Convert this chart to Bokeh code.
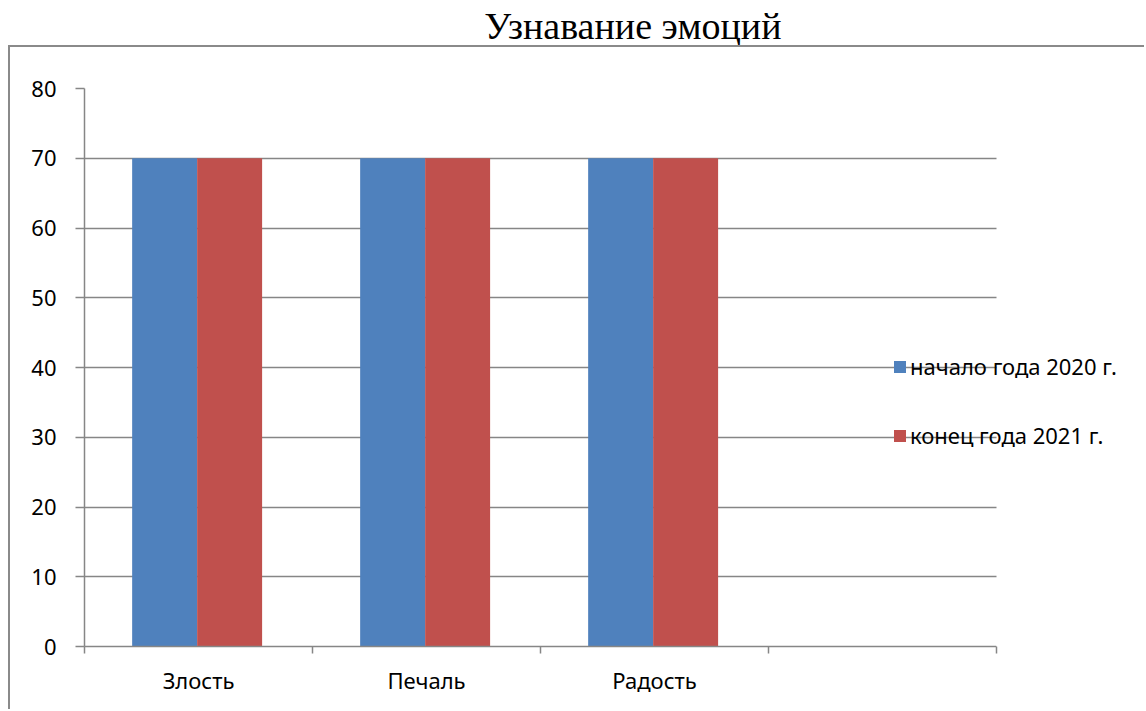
from bokeh.plotting import figure
from bokeh.models import (ColumnDataSource, FixedTicker, Legend, LegendItem,
                          BoxAnnotation, Range1d, Label)
from bokeh.layouts import column
from bokeh.embed import file_html
from bokeh.resources import INLINE
import numpy as np

# ---- data ----
categories = ["Злость", "Печаль", "Радость", ""]
series_names = ["начало года 2020 г.", "конец года 2021 г."]
start_2020 = [70, 70, 70]
end_2021 = [70, 70, 70]
y_ticks = [0, 10, 20, 30, 40, 50, 60, 70, 80]
title_text = "Узнавание эмоций"

BLUE = "#4F81BD"
RED = "#C0504D"
GRAY = "#868686"
FONT = "Noto Sans"
FS = "22px"

# ---- layout constants (pixels) ----
W, H = 1146, 711
TITLE_H = 45
MAIN_W, MAIN_H = 1136, 664        # inside the CSS border of the chart frame
LEFT, TOP, BOTTOM = 74, 41, 65    # plot area borders inside the main canvas
CAT_PX = 228                      # pixel width of one category slot

n_cat = len(categories)
frame_w = MAIN_W - LEFT
x_end = frame_w / CAT_PX          # keeps 228 px per category, frame runs to the right edge

idx = np.arange(len(start_2020)) + 0.5
bar_w = 0.285

src1 = ColumnDataSource(dict(x=idx - bar_w / 2 - 0.006, top=start_2020))
src2 = ColumnDataSource(dict(x=idx + bar_w / 2 - 0.006, top=end_2021))

# ---- title strip ----
t = figure(width=W, height=TITLE_H, output_backend="svg", toolbar_location=None,
           x_range=Range1d(0, W), y_range=Range1d(0, TITLE_H),
           x_axis_location=None, y_axis_location=None,
           min_border=0, min_border_left=0, min_border_right=0,
           min_border_top=0, min_border_bottom=0)
t.outline_line_color = None
t.grid.visible = False
t.add_layout(Label(x=597, y=TITLE_H, y_offset=-4, text=title_text,
                   text_align="center", text_baseline="top",
                   text_font="Liberation Serif",
                   text_font_size="38px", text_color="black"))

# ---- main chart ----
p = figure(width=MAIN_W, height=MAIN_H, output_backend="svg", toolbar_location=None,
           x_range=Range1d(0, x_end), y_range=Range1d(0, 80),
           min_border_left=LEFT, min_border_right=0, min_border_top=TOP,
           min_border_bottom=BOTTOM,
           styles={"margin-left": "8px",
                   "border-left": "2px solid #8a8a8a",
                   "border-top": "2px solid #8a8a8a"})
p.outline_line_color = None

r1 = p.vbar(x="x", top="top", bottom=0, width=bar_w, source=src1,
            fill_color=BLUE, line_color=None)
r2 = p.vbar(x="x", top="top", bottom=0, width=bar_w, source=src2,
            fill_color=RED, line_color=None)

# y axis
p.yaxis.ticker = FixedTicker(ticks=y_ticks)
p.yaxis.axis_line_color = GRAY
p.yaxis.axis_line_width = 1.5
p.yaxis.major_tick_line_color = GRAY
p.yaxis.major_tick_line_width = 1.5
p.yaxis.major_tick_out = 9
p.yaxis.major_tick_in = 0
p.yaxis.minor_tick_line_color = None
p.yaxis.major_label_text_font = FONT
p.yaxis.major_label_text_font_size = FS
p.yaxis.major_label_text_color = "black"
p.yaxis.major_label_standoff = 19

# x axis: labels at category centres, ticks at category boundaries
centers = [i + 0.5 for i in range(n_cat)]
bounds = [float(i) for i in range(n_cat + 1)]
p.xaxis.ticker = FixedTicker(ticks=centers, minor_ticks=bounds)
p.xaxis.major_label_overrides = {c: lab for c, lab in zip(centers, categories)}
p.xaxis.bounds = (0, n_cat)
p.xaxis.axis_line_color = GRAY
p.xaxis.axis_line_width = 1.5
p.xaxis.major_tick_line_color = None
p.xaxis.major_tick_out = 0
p.xaxis.major_tick_in = 0
p.xaxis.minor_tick_line_color = GRAY
p.xaxis.minor_tick_line_width = 1.5
p.xaxis.minor_tick_out = 7
p.xaxis.minor_tick_in = 0
p.xaxis.major_label_text_font = FONT
p.xaxis.major_label_text_font_size = FS
p.xaxis.major_label_text_color = "black"
p.xaxis.major_label_standoff = 11

p.xgrid.grid_line_color = None
p.ygrid.grid_line_color = GRAY
p.ygrid.grid_line_width = 1.3

# gridlines stop at the end of the category axis
p.add_layout(BoxAnnotation(left=n_cat, fill_color="white", fill_alpha=1,
                           line_color=None))

legend = Legend(items=[LegendItem(label=series_names[0], renderers=[r1]),
                       LegendItem(label=series_names[1], renderers=[r2])],
                location=(808, 196), orientation="vertical",
                padding=0, margin=0, spacing=39,
                glyph_width=15, glyph_height=15, label_standoff=3,
                label_height=20,
                label_text_font=FONT, label_text_font_size=FS,
                label_text_color="black",
                background_fill_alpha=0, border_line_alpha=0)
p.add_layout(legend)

layout = column(t, p, spacing=0)
open("out.html", "w").write(file_html(layout, INLINE))
